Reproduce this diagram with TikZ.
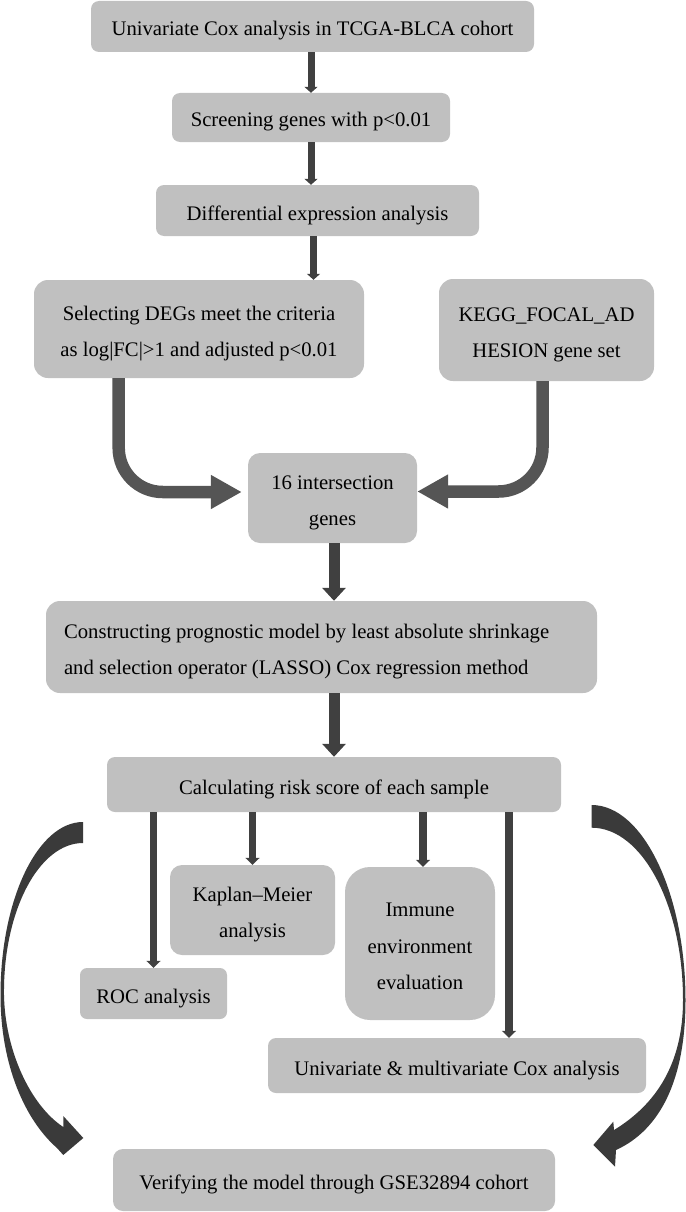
\documentclass[tikz,border=0pt]{standalone}
\usepackage{fontspec}
\setmainfont{Liberation Serif}
\usetikzlibrary{arrows.meta}
\definecolor{boxgray}{HTML}{C0C0C0}
\definecolor{arrdark}{HTML}{404040}
\definecolor{bendgray}{HTML}{555555}
\definecolor{crescent}{HTML}{3A3A3A}
\newcommand\topst{\rule{0pt}{23.5pt}}
\newcommand\botst{\rule[-4.5pt]{0pt}{4.5pt}}
\begin{document}
\begin{tikzpicture}[x=1pt,y=-1pt,
  box/.style={fill=boxgray, draw=none, rounded corners=8pt, inner sep=0pt, align=center,
    font=\fontsize{20.7}{36.7}\selectfont},
  thinarrow/.style={draw=arrdark, line width=7pt, -{Triangle[width=13pt,length=6pt]}},
  smallarrow/.style={draw=arrdark, line width=7.5pt, -{Triangle[width=14pt,length=7pt]}},
  thickarrow/.style={draw=arrdark, line width=11pt, -{Triangle[width=23pt,length=13pt]}},
  bendarrow/.style={draw=bendgray, line width=12.5pt, rounded corners=44pt, -{Triangle[width=32pt,length=31pt]}},
  crescentarrow/.style={fill=crescent, draw=none}]
\useasboundingbox (0,0) rectangle (685,1212);

\node[box, minimum width=443pt, minimum height=51pt] (b1) at (312.5,26.5) {\topst Univariate Cox analysis in TCGA-BLCA cohort\botst};
\node[box, minimum width=278pt, minimum height=49pt] (b2) at (311,117.5) {\topst Screening genes with p<0.01\botst};
\node[box, minimum width=323pt, minimum height=51pt] (b3) at (317.5,210.5) {\topst Differential expression analysis\botst};
\node[box, rounded corners=14pt, minimum width=330pt, minimum height=98pt] (b4) at (199,329) {\topst Selecting DEGs meet the criteria\\as log|FC|>1 and adjusted p<0.01\botst};
\node[box, rounded corners=14pt, minimum width=215pt, minimum height=102pt] (b5) at (546.5,330) {\topst KEGG\_FOCAL\_AD\\HESION gene set\botst};
\node[box, rounded corners=12pt, minimum width=169pt, minimum height=90pt] (b6) at (332.5,498) {\topst 16 intersection\\genes\botst};
\node[box, rounded corners=14pt, minimum width=551pt, minimum height=92pt, text width=515pt, align=flush left, inner xsep=18pt] (b7) at (321.5,647) {\topst Constructing prognostic model by least absolute shrinkage\\and selection operator (LASSO) Cox regression method\botst};
\node[box, minimum width=454pt, minimum height=55pt] (b8) at (334,784.5) {\topst Calculating risk score of each sample\botst};
\node[box, rounded corners=12pt, minimum width=165pt, minimum height=90pt] (km) at (252.5,910) {\topst Kaplan–Meier\\analysis\botst};
\node[box, rounded corners=25pt, minimum width=150pt, minimum height=153pt] (im) at (420,943.5) {\topst Immune\\environment\\evaluation\botst};
\node[box, rounded corners=7pt, minimum width=147pt, minimum height=51pt] (roc) at (153.5,993.5) {\topst ROC analysis\botst};
\node[box, minimum width=378pt, minimum height=55pt] (uv) at (457,1065.5) {\topst Univariate \& multivariate Cox analysis\botst};
\node[box, rounded corners=10pt, minimum width=442pt, minimum height=62pt] (vf) at (334,1180) {\topst Verifying the model through GSE32894 cohort\botst};

% straight arrows
\draw[thinarrow] (b2.north |- b1.south) -- (b2.north);
\draw[thinarrow] (b2.south) -- (b2.south |- b3.north);
\coordinate (a3) at ([xshift=-4pt]b3.south);
\draw[thinarrow] (a3) -- (a3 |- b4.north);
\coordinate (a6) at ([xshift=1.5pt]b6.south);
\draw[thickarrow] (a6) -- (a6 |- b7.north);
\draw[thickarrow] (b8.north |- b7.south) -- (b8.north);

% arrows from risk score box
\draw[smallarrow] (roc.north |- b8.south) -- (roc.north);
\draw[smallarrow] (km.north |- b8.south) -- (km.north);
\coordinate (imt) at ([xshift=3pt]im.north);
\draw[smallarrow] (imt |- b8.south) -- (imt);
\coordinate (uvt) at ([xshift=52pt]uv.north);
\draw[smallarrow] (uvt |- b8.south) -- (uvt);

% bent arrows into intersection box
\coordinate (l0) at ([xshift=-80.3pt]b4.south);
\coordinate (l1) at ([xshift=-6pt,yshift=6pt]b6.west);
\draw[bendarrow] (l0) -- (l0 |- l1) -- (l1);
\coordinate (r0) at ([xshift=-4pt]b5.south);
\coordinate (r1) at ([yshift=6.5pt]b6.east);
\draw[bendarrow] (r0) -- (r0 |- r1) -- (r1);

% crescent arrows to verification box
\fill[crescentarrow] (83,822) -- (83,843) .. controls (39,843) and (3,911) .. (4,995)
  .. controls (5,1050) and (30,1105) .. (63.3,1127) -- (63.3,1116) -- (83.3,1138) -- (63.3,1155)
  -- (57,1148) .. controls (25,1120) and (0.5,1065) .. (0.5,995)
  .. controls (0.5,899.5) and (37.7,822) .. (83,822) -- cycle;
\fill[crescentarrow] (591.7,805) .. controls (643.5,805) and (685.5,895) .. (685.5,1000)
  .. controls (685.5,1080) and (660,1130) .. (616,1150) -- (615,1166.7) -- (593.3,1145) -- (613.3,1121.7)
  -- (614,1130) .. controls (655,1105) and (683,1065) .. (683,1000)
  .. controls (683,905) and (642,827.7) .. (591.7,827.7) -- cycle;
\end{tikzpicture}
\end{document}
